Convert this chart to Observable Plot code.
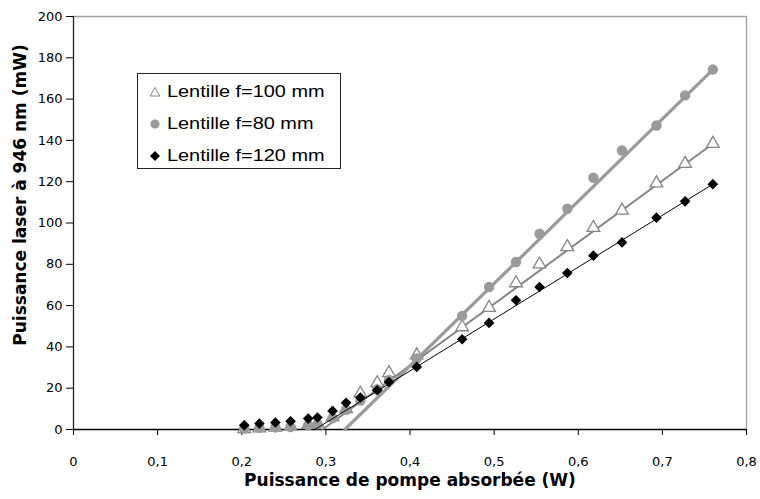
<!DOCTYPE html>
<html>
<head>
<meta charset="utf-8">
<script src="https://cdn.jsdelivr.net/npm/d3@7"></script>
<script src="https://cdn.jsdelivr.net/npm/@observablehq/plot@0.6"></script>
<style>
  html, body { margin: 0; padding: 0; background: #fff; }
  #wrap { position: relative; width: 760px; height: 499px; }
  #legend { position: absolute; left: 137px; top: 73px; width: 204px; height: 96px;
    border: 1px solid #222; background: #fff; box-sizing: border-box;
    font-family: "Liberation Sans", Arial, sans-serif; font-size: 17px; color: #000; }
  #legend .row { position: absolute; left: 0; height: 20px; line-height: 20px; white-space: nowrap; }
  #legend svg { position: absolute; left: 11px; top: 4px; }
  #legend span { position: absolute; left: 29px; top: 0; transform: scaleX(1.17); transform-origin: left center; }
</style>
</head>
<body>
<div id="wrap"></div>
<script>
// Absorbed pump power (W) — shared by the three series
const pump = [0.203, 0.221, 0.240, 0.258, 0.279, 0.290, 0.308, 0.324, 0.341, 0.361, 0.375,
              0.408, 0.462, 0.494, 0.526, 0.554, 0.587, 0.618, 0.652, 0.693, 0.727, 0.760];
// Laser power at 946 nm (mW)
const laser100 = [0.3, 0.6, 1.0, 1.5, 2.5, 3.0, 6.0, 10.0, 17.4, 22.5, 27.4,
                  36.0, 49.6, 59.0, 70.9, 80.0, 88.4, 97.7, 106.1, 119.3, 128.7, 138.4];
const laser80  = [0.5, 0.8, 1.0, 1.2, 2.0, 2.5, 5.5, 9.5, 14.0, 19.5, 24.0,
                  34.4, 55.0, 69.0, 81.1, 94.8, 106.9, 121.9, 135.1, 147.2, 161.8, 174.3];
const laser120 = [2.1, 2.9, 3.4, 4.0, 5.3, 5.8, 9.0, 12.9, 15.5, 19.0, 23.0,
                  30.3, 43.7, 51.6, 62.6, 69.0, 75.8, 84.2, 90.6, 102.6, 110.5, 118.8];
// Linear fit lines (endpoints)
const fit100X = [0.296, 0.760], fit100Y = [0, 138.4];
const fit80X  = [0.3226, 0.760], fit80Y  = [0, 174.3];
const fit120X = [0.287, 0.760], fit120Y = [0, 118.8];

const seriesNames = ["Lentille f=100 mm", "Lentille f=80 mm", "Lentille f=120 mm"];
const xTicks = [0, 0.1, 0.2, 0.3, 0.4, 0.5, 0.6, 0.7, 0.8];
const yTicks = [0, 20, 40, 60, 80, 100, 120, 140, 160, 180, 200];
const xTitle = "Puissance de pompe absorbée (W)";
const yTitle = "Puissance laser à 946 nm (mW)";

const toRows = (xs, ys) => xs.map((x, i) => ({x, y: ys[i]}));
const d100 = toRows(pump, laser100), d80 = toRows(pump, laser80), d120 = toRows(pump, laser120);
const f100 = toRows(fit100X, fit100Y), f80 = toRows(fit80X, fit80Y), f120 = toRows(fit120X, fit120Y);

const grey1 = "#9a9a9a", grey2 = "#858585";
const titleFont = "DejaVu Sans";

const chart = Plot.plot({
  width: 760, height: 499,
  marginLeft: 73, marginRight: 14, marginTop: 16, marginBottom: 70,
  x: {domain: [0, 0.8]},
  y: {domain: [0, 200]},
  style: {fontFamily: "DejaVu Sans, sans-serif", fontSize: "13px", color: "#000", background: "#fff", overflow: "visible"},
  marks: [
    Plot.ruleY([200], {stroke: "#a0a0a0", strokeWidth: 1.3}),
    Plot.ruleX([0.8], {stroke: "#a0a0a0", strokeWidth: 1.3}),
    Plot.axisY({ticks: yTicks, tickSize: 7, tickPadding: 4, label: null, tickFormat: d => String(d)}),
    Plot.axisX({ticks: xTicks, tickSize: 6, tickPadding: 21, label: null,
                tickFormat: d => String(d).replace(".", ",")}),
    Plot.ruleX([0], {stroke: "#222", strokeWidth: 1.3}),
    Plot.ruleY([0], {stroke: "#000", strokeWidth: 1.3}),
    Plot.line(f100, {x: "x", y: "y", stroke: grey2, strokeWidth: 2}),
    Plot.dot(d100, {x: "x", y: "y", symbol: "triangle", r: 4.7, fill: "#fff", stroke: grey2, strokeWidth: 1.3}),
    Plot.line(f80, {x: "x", y: "y", stroke: grey1, strokeWidth: 3.2}),
    Plot.dot(d80, {x: "x", y: "y", symbol: "circle", r: 5.2, fill: grey1, stroke: "none"}),
    Plot.line(f120, {x: "x", y: "y", stroke: "#000", strokeWidth: 1}),
    Plot.dot(d120, {x: "x", y: "y", symbol: "diamond2", r: 4.8, fill: "#000", stroke: "none"}),
    Plot.text([xTitle], {frameAnchor: "bottom", dy: 56, fontWeight: "bold", fontSize: 17, fontFamily: titleFont, fill: "#000"}),
    Plot.text([yTitle], {frameAnchor: "left", textAnchor: "middle", rotate: -90, dx: -53, dy: -28, fontWeight: "bold", fontSize: 17, fontFamily: titleFont, fill: "#000"})
  ]
});

const wrap = document.getElementById("wrap");
wrap.appendChild(chart);

// Legend (HTML overlay)
const legend = document.createElement("div");
legend.id = "legend";
const symbolsSvg = [
  `<svg width="12" height="12" viewBox="-6 -6 12 12"><path d="M0,-4.5L4.8,4L-4.8,4Z" fill="#fff" stroke="${grey2}" stroke-width="1"/></svg>`,
  `<svg width="12" height="12" viewBox="-6 -6 12 12"><circle r="4.6" fill="${grey1}"/></svg>`,
  `<svg width="12" height="12" viewBox="-6 -6 12 12"><path d="M0,-5L5,0L0,5L-5,0Z" fill="#000"/></svg>`
];
const rowTops = [8, 39.5, 71.5];
seriesNames.forEach((name, i) => {
  const row = document.createElement("div");
  row.className = "row";
  row.style.top = rowTops[i] + "px";
  row.innerHTML = symbolsSvg[i] + `<span>${name}</span>`;
  legend.appendChild(row);
});
wrap.appendChild(legend);
</script>
</body>
</html>
